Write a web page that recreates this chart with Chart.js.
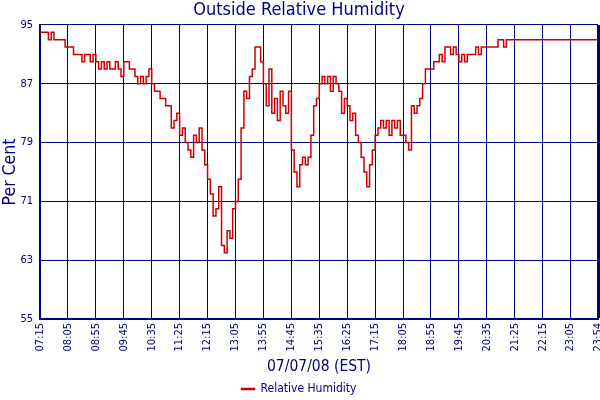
<!DOCTYPE html>
<html lang="en">
<head>
<meta charset="UTF-8">
<title>Outside Relative Humidity</title>
<style>
    html, body {
        margin: 0;
        padding: 0;
        background: white;
    }
    #wrap {
        width: 600px;
        height: 400px;
    }
</style>
<script src="https://cdn.jsdelivr.net/npm/chart.js"></script>
</head>
<body>
<div id="wrap"><canvas id="humChart" width="600" height="400"></canvas></div>
<script>
    // readings every 5 minutes starting at 07:15
    const sampleStep = 5;
    const humidity = [
        94, 94, 94, 93, 94, 93, 93, 93, 93, 92,
        92, 92, 91, 91, 91, 90, 91, 91, 90, 91,
        90, 89, 90, 89, 90, 89, 89, 90, 89, 88,
        90, 90, 89, 89, 88, 87, 88, 87, 88, 89,
        87, 86, 86, 85, 85, 84, 84, 81, 82, 83,
        80, 81, 79, 78, 77, 80, 79, 81, 78, 76,
        74, 72, 69, 70, 73, 65, 64, 67, 66, 70,
        71, 74, 81, 86, 85, 88, 89, 92, 92, 90,
        87, 84, 89, 83, 85, 82, 86, 84, 83, 86,
        78, 75, 73, 76, 77, 76, 77, 80, 84, 85,
        87, 88, 87, 88, 86, 88, 87, 86, 83, 85,
        84, 82, 83, 80, 79, 77, 75, 73, 76, 78,
        80, 81, 82, 81, 82, 80, 82, 81, 82, 80,
        80, 79, 78, 84, 83, 84, 85, 87, 89, 89,
        89, 90, 90, 91, 90, 92, 92, 91, 92, 91,
        90, 91, 90, 91, 91, 91, 92, 91, 92, 92,
        92, 92, 92, 92, 93, 93, 92, 93, 93
    ];
    // last reading of the day (minutes after 07:15)
    const endMinute = 999;
    const endValue = 93;

    // x ticks, in minutes after 07:15
    const tickMinutes = [0, 50, 100, 150, 200, 250, 300, 350, 400, 450, 500,
                         550, 600, 650, 700, 750, 800, 850, 900, 950, 999];
    const tickLabels = ['07:15', '08:05', '08:55', '09:45', '10:35', '11:25', '12:15', '13:05', '13:55', '14:45',
                        '15:35', '16:25', '17:15', '18:05', '18:55', '19:45', '20:35', '21:25', '22:15', '23:05', '23:54'];

    const navy = '#000080';
    const red = '#cc0000';

    const points = humidity.map((v, i) => ({ x: i * sampleStep, y: v }));
    points.push({ x: endMinute, y: endValue });

    Chart.defaults.font.family = "'DejaVu Sans Condensed', 'DejaVu Sans', sans-serif";
    Chart.defaults.color = navy;

    const ctx = document.getElementById('humChart').getContext('2d');
    new Chart(ctx, {
        type: 'line',
        data: {
            datasets: [{
                label: 'Relative Humidity',
                data: points,
                borderColor: red,
                backgroundColor: red,
                borderWidth: 1.5,
                pointRadius: 0,
                stepped: true,
                fill: false
            }]
        },
        options: {
            responsive: false,
            animation: false,
            layout: { padding: { top: 0, left: 0, right: 2, bottom: -5 } },
            scales: {
                x: {
                    type: 'linear',
                    min: 0,
                    max: endMinute,
                    afterBuildTicks: (scale) => {
                        scale.ticks = tickMinutes.map(v => ({ value: v }));
                    },
                    afterFit: (scale) => {
                        scale.height = 54;
                        scale.paddingLeft = 0;
                        scale.paddingRight = 0;
                    },
                    ticks: {
                        autoSkip: false,
                        maxRotation: 90,
                        minRotation: 90,
                        padding: 4,
                        color: navy,
                        font: { size: 11 },
                        callback: (value, index) => tickLabels[index]
                    },
                    grid: {
                        color: navy,
                        lineWidth: (c) => c.index === tickMinutes.length - 1 ? 3 : 1,
                        drawTicks: false
                    },
                    border: { color: navy, width: 2 },
                    title: {
                        display: true,
                        text: '07/07/08 (EST)',
                        color: navy,
                        font: { size: 15.5, lineHeight: 0.8 },
                        padding: 0
                    }
                },
                y: {
                    min: 55,
                    max: 95,
                    afterFit: (scale) => {
                        scale.width = 40;
                        scale.paddingTop = 0;
                        scale.paddingBottom = 0;
                    },
                    ticks: {
                        stepSize: 8,
                        padding: 7,
                        color: navy,
                        font: { size: 11 }
                    },
                    grid: { color: navy, lineWidth: 1, drawTicks: false },
                    border: { color: navy, width: 2 },
                    title: {
                        display: true,
                        text: 'Per Cent',
                        color: navy,
                        font: { size: 17.5 },
                        padding: 0
                    }
                }
            },
            plugins: {
                title: {
                    display: true,
                    text: 'Outside Relative Humidity',
                    color: navy,
                    font: { size: 18, weight: 'normal', lineHeight: 1.2 },
                    padding: { top: 0, bottom: 3.4 }
                },
                legend: {
                    position: 'bottom',
                    labels: {
                        boxWidth: 13,
                        boxHeight: 1,
                        color: navy,
                        font: { size: 12 }
                    }
                },
                tooltip: { enabled: false }
            }
        }
    });
</script>
</body>
</html>
